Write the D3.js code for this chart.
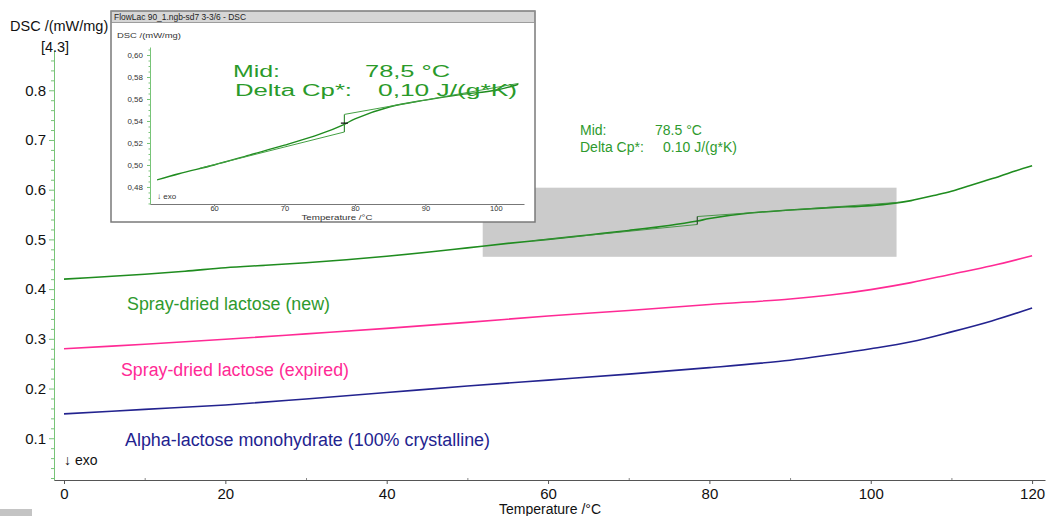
<!DOCTYPE html>
<html><head><meta charset="utf-8">
<script src="https://cdn.jsdelivr.net/npm/d3@7"></script>
<style>
body{margin:0;background:#fff;overflow:hidden}
svg{font-family:"Liberation Sans",Arial,sans-serif;display:block}
</style></head>
<body><svg id="c" width="1047" height="516"></svg>
<script>
// ---- data ----
const tempsNew = [0,5,10,15,20,25,30,35,40,45,50,55,60,65,70,75,78.5,80,85,90,95,100,103,105,108,110,112,114,116,118,120];
const dscNew   = [0.420,0.425,0.430,0.436,0.443,0.448,0.453,0.459,0.466,0.474,0.483,0.492,0.500,0.509,0.518,0.528,0.537,0.542,0.553,0.559,0.564,0.568,0.573,0.578,0.589,0.597,0.607,0.617,0.627,0.638,0.648];
const temps = [0,10,20,30,40,50,60,70,80,90,95,100,105,110,115,120];
const dscExpired = [0.280,0.289,0.299,0.310,0.321,0.333,0.346,0.357,0.369,0.380,0.388,0.399,0.413,0.430,0.447,0.467];
const dscAlpha   = [0.149,0.158,0.167,0.179,0.192,0.205,0.217,0.229,0.242,0.257,0.268,0.280,0.294,0.314,0.336,0.362];
const seriesNames = ["Spray-dried lactose (new)","Spray-dried lactose (expired)","Alpha-lactose monohydrate (100% crystalline)"];
const xTicks = [0,20,40,60,80,100,120];
const xMinor = [10,30,50,70,90,110];
const yTicks = [0.1,0.2,0.3,0.4,0.5,0.6,0.7,0.8];
const yMinor = d3.range(0.02,0.88,0.02).filter(v=>Math.abs(Math.round(v*10)-v*10)>0.01);
// glass transition evaluation
const midT = 78.5, midV = 0.538, stepV = [0.530,0.546];
const lowTanT = [58,78.5], lowTanV = [0.497,0.530];
const highTanT = [78.5,103.5], highTanV = [0.546,0.5745];
const zoomBoxT = [51.9,103.2], zoomBoxV = [0.465,0.604];
// inset
const insetXTicks = [60,70,80,90,100];
const insetYTicks = [0.48,0.50,0.52,0.54,0.56,0.58,0.60];
const insetYMinor = d3.range(0.465,0.606,0.005).filter(v=>Math.abs(Math.round(v*50)-v*50)>0.01);

const GREEN="#1f8c1f", GTXT="#2e9a2e", PINK="#ff2a95", NAVY="#23238f", AXG="#78c478";
const svg = d3.select("#c");

// ---- main scales ----
const x = d3.scaleLinear().domain([-1.24,121.6]).range([54,1045]);
const y = d3.scaleLinear().domain([0.016,0.881]).range([480,50]);

// zoom box
svg.append("rect").attr("x",x(zoomBoxT[0])).attr("y",y(zoomBoxV[1]))
  .attr("width",x(zoomBoxT[1])-x(zoomBoxT[0])).attr("height",y(zoomBoxV[0])-y(zoomBoxV[1]))
  .attr("fill","#cbcbcb");

// axes
const yAx = svg.append("g").attr("transform","translate(54,0)")
  .call(d3.axisLeft(y).tickValues(yTicks).tickSize(5).tickSizeOuter(0).tickPadding(3).tickFormat(d3.format(".1f")));
yAx.select(".domain").attr("stroke",AXG);
yAx.selectAll(".tick line").attr("stroke",AXG);
yAx.selectAll("text").attr("font-size",15).attr("fill","#111").attr("font-family","Liberation Sans, Arial");
const yAxm = svg.append("g").attr("transform","translate(54,0)")
  .call(d3.axisLeft(y).tickValues(yMinor).tickSize(3).tickFormat(""));
yAxm.select(".domain").remove();
yAxm.selectAll(".tick line").attr("stroke",AXG);

const xAx = svg.append("g").attr("transform","translate(0,480)")
  .call(d3.axisBottom(x).tickValues(xTicks).tickSize(4).tickSizeOuter(0).tickPadding(4).tickFormat(d3.format("d")));
xAx.select(".domain").attr("stroke","#555");
xAx.selectAll(".tick line").attr("stroke","#555");
xAx.selectAll("text").attr("font-size",15).attr("fill","#111").attr("font-family","Liberation Sans, Arial");
const xAxm = svg.append("g").attr("transform","translate(0,480)")
  .call(d3.axisTop(x).tickValues(xMinor).tickSize(2).tickFormat(""));
xAxm.select(".domain").remove();
xAxm.selectAll(".tick line").attr("stroke","#888");

// axis titles
svg.append("text").attr("x",10).attr("y",31).attr("font-size",14.5).attr("fill","#111").text("DSC /(mW/mg)");
svg.append("text").attr("x",55).attr("y",52).attr("font-size",14.5).attr("text-anchor","middle").attr("fill","#111").text("[4.3]");
svg.append("text").attr("x",550).attr("y",514).attr("font-size",14).attr("text-anchor","middle").attr("fill","#111").text("Temperature /°C");
svg.append("text").attr("x",64).attr("y",465).attr("font-size",14).attr("fill","#111").text("↓ exo");

// curves
const line = d3.line().x(d=>x(d[0])).y(d=>y(d[1])).curve(d3.curveCatmullRom.alpha(0.5));
const sNew = tempsNew.map((t,i)=>[t,dscNew[i]]);
const sExp = temps.map((t,i)=>[t,dscExpired[i]]);
const sAlp = temps.map((t,i)=>[t,dscAlpha[i]]);
[[sAlp,NAVY],[sExp,PINK],[sNew,GREEN]].forEach(([d,c])=>{
  svg.append("path").datum(d).attr("d",line).attr("fill","none").attr("stroke",c).attr("stroke-width",1.6);
});
// tangents in main
const seg = d3.line().x(d=>x(d[0])).y(d=>y(d[1]));
svg.append("path").datum(lowTanT.map((t,i)=>[t,lowTanV[i]])).attr("d",seg).attr("fill","none").attr("stroke","#3a8f3a").attr("stroke-width",0.9);
svg.append("path").datum(highTanT.map((t,i)=>[t,highTanV[i]])).attr("d",seg).attr("fill","none").attr("stroke","#3a8f3a").attr("stroke-width",0.9);
svg.append("path").datum([[midT,stepV[0]],[midT,stepV[1]]]).attr("d",seg).attr("fill","none").attr("stroke","#2d4d2d").attr("stroke-width",1.2);

// series labels
svg.append("text").attr("x",127).attr("y",310).attr("font-size",18).attr("fill",GTXT)
  .attr("textLength",203).attr("lengthAdjust","spacingAndGlyphs").text(seriesNames[0]);
svg.append("text").attr("x",121).attr("y",376).attr("font-size",18).attr("fill",PINK)
  .attr("textLength",228).attr("lengthAdjust","spacingAndGlyphs").text(seriesNames[1]);
svg.append("text").attr("x",125).attr("y",446).attr("font-size",18).attr("fill",NAVY)
  .attr("textLength",365).attr("lengthAdjust","spacingAndGlyphs").text(seriesNames[2]);

// main annotation
const ann = svg.append("g").attr("font-size",14).attr("fill",GTXT);
ann.append("text").attr("x",580).attr("y",135).text("Mid:");
ann.append("text").attr("x",655).attr("y",135).text(midT.toFixed(1)+" °C");
ann.append("text").attr("x",580).attr("y",152).text("Delta Cp*:");
ann.append("text").attr("x",663).attr("y",152).text("0.10 J/(g*K)");

// bottom-left gray block
svg.append("rect").attr("x",0).attr("y",509).attr("width",32).attr("height",7).attr("fill","#c4c4c4");

// ---- inset ----
const ins = svg.append("g");
ins.append("rect").attr("x",111).attr("y",11).attr("width",424).attr("height",211).attr("fill","#fff").attr("stroke","#7a7a7a").attr("stroke-width",1.5);
ins.append("rect").attr("x",111.5).attr("y",11.5).attr("width",423).attr("height",11).attr("fill","#d6d6d6").attr("stroke","#8a8a8a").attr("stroke-width",0.8);
ins.append("text").attr("x",114).attr("y",20).attr("font-size",9).attr("fill","#222")
  .attr("textLength",132).attr("lengthAdjust","spacingAndGlyphs").text("FlowLac 90_1.ngb-sd7 3-3/6 - DSC");
const ix = d3.scaleLinear().domain([50.9,104]).range([150,524]);
const iy = d3.scaleLinear().domain([0.4645,0.6073]).range([204,47]);
const comma = d=>d.toFixed(2).replace(".",",");
const iyAx = ins.append("g").attr("transform","translate(150,0)")
  .call(d3.axisLeft(iy).tickValues(insetYTicks).tickSize(3).tickSizeOuter(0).tickPadding(4).tickFormat(comma));
iyAx.select(".domain").attr("stroke",AXG);
iyAx.selectAll(".tick line").attr("stroke",AXG);
iyAx.selectAll("text").attr("font-size",8).attr("fill","#333").attr("font-family","Liberation Sans, Arial");
const iyAxm = ins.append("g").attr("transform","translate(150,0)")
  .call(d3.axisLeft(iy).tickValues(insetYMinor).tickSize(1.5).tickFormat(""));
iyAxm.select(".domain").remove();
iyAxm.selectAll(".tick line").attr("stroke",AXG);
const ixAx = ins.append("g").attr("transform","translate(0,204)")
  .call(d3.axisBottom(ix).tickValues(insetXTicks).tickSize(2).tickSizeOuter(0).tickPadding(0).tickFormat(d3.format("d")));
ixAx.select(".domain").attr("stroke","#777");
ixAx.selectAll(".tick line").attr("stroke","#777");
ixAx.selectAll("text").attr("font-size",7.5).attr("fill","#333").attr("font-family","Liberation Sans, Arial");
ins.append("text").attr("x",117).attr("y",38).attr("font-size",8).attr("fill","#333")
  .attr("textLength",64).attr("lengthAdjust","spacingAndGlyphs").text("DSC /(mW/mg)");
ins.append("text").attr("x",337).attr("y",220).attr("font-size",7).attr("fill","#333").attr("text-anchor","middle")
  .attr("textLength",71).attr("lengthAdjust","spacingAndGlyphs").text("Temperature /°C");
ins.append("text").attr("x",157).attr("y",199).attr("font-size",8).attr("fill","#333").text("↓ exo");

svg.append("defs").append("clipPath").attr("id","ic").append("rect")
  .attr("x",ix(zoomBoxT[0])).attr("y",iy(0.6073)).attr("width",ix(zoomBoxT[1])-ix(zoomBoxT[0])).attr("height",iy(0.4645)-iy(0.6073));
const iline = d3.line().x(d=>ix(d[0])).y(d=>iy(d[1])).curve(d3.curveCatmullRom.alpha(0.5));
const iseg = d3.line().x(d=>ix(d[0])).y(d=>iy(d[1]));
const ic = ins.append("g").attr("clip-path","url(#ic)");
ic.append("path").datum(sNew.filter(d=>d[0]>=45&&d[0]<=108)).attr("d",iline).attr("fill","none").attr("stroke",GREEN).attr("stroke-width",1.4);
ic.append("path").datum(lowTanT.map((t,i)=>[t,lowTanV[i]])).attr("d",iseg).attr("fill","none").attr("stroke","#44a044").attr("stroke-width",1);
ic.append("path").datum(highTanT.map((t,i)=>[t,highTanV[i]])).attr("d",iseg).attr("fill","none").attr("stroke","#44a044").attr("stroke-width",1);
ic.append("path").datum([[midT,stepV[0]],[midT,stepV[1]]]).attr("d",iseg).attr("fill","none").attr("stroke","#3a8f3a").attr("stroke-width",1.2);
ic.append("path").datum([[midT-0.5,midV],[midT+0.5,midV]]).attr("d",iseg).attr("fill","none").attr("stroke","#111").attr("stroke-width",1.2);

const it = ins.append("g").attr("font-size",16).attr("fill","#2a9a2a");
it.append("text").attr("x",233).attr("y",77).attr("textLength",47).attr("lengthAdjust","spacingAndGlyphs").text("Mid:");
it.append("text").attr("x",365).attr("y",77).attr("textLength",85).attr("lengthAdjust","spacingAndGlyphs").text("78,5 °C");
it.append("text").attr("x",235).attr("y",96).attr("textLength",117).attr("lengthAdjust","spacingAndGlyphs").text("Delta Cp*:");
it.append("text").attr("x",378).attr("y",96).attr("textLength",139).attr("lengthAdjust","spacingAndGlyphs").text("0,10 J/(g*K)");
</script></body></html>
